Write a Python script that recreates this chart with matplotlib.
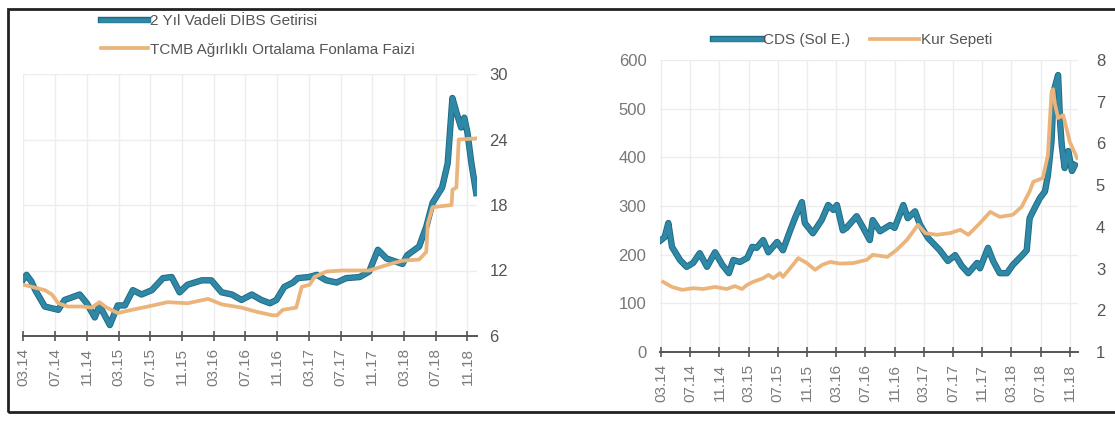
"""Two-panel chart: 2-year bond yield vs TCMB funding rate, CDS vs currency basket."""
import matplotlib
matplotlib.use("Agg")
import matplotlib.pyplot as plt
import matplotlib.patheffects as pe
from matplotlib.patches import Rectangle

TICK_LABELS = ["03.14", "07.14", "11.14", "03.15", "07.15", "11.15", "03.16", "07.16",
               "11.16", "03.17", "07.17", "11.17", "03.18", "07.18", "11.18"]
TICK_POS = [4 * i for i in range(len(TICK_LABELS))]  # months since 03.14

# left panel: months since 03.14 and values (%)
DIBS_M = [0, 0.4, 1, 1.5, 2.7, 4.4, 5.2, 7.1, 8, 9, 9.6, 10.9, 11.9, 12.8, 13.8, 14.9, 16.2,
          17.6, 18.7, 19.7, 20.7, 22.5, 23.7, 25, 26.3, 27.5, 28.8, 30, 31.1, 31.9, 32.9, 34,
          34.6, 36, 37, 38.2, 39.5, 40.7, 42.4, 43.6, 44.7, 45.8, 47, 47.8, 48.4, 49.9, 50.8,
          51.6, 52.8, 53.5, 54.1, 54.6, 55.2, 55.6, 56, 56.5, 57.1]
DIBS = [11.2, 11.6, 11.0, 10.2, 8.7, 8.4, 9.3, 9.8, 9.0, 7.7, 8.8, 7.0, 8.8, 8.8, 10.2, 9.8,
        10.2, 11.3, 11.4, 10.0, 10.7, 11.1, 11.1, 10.0, 9.8, 9.3, 9.8, 9.3, 9.0, 9.3, 10.5,
        10.9, 11.3, 11.4, 11.6, 11.1, 10.9, 11.3, 11.4, 11.9, 13.9, 13.1, 12.8, 12.6, 13.4,
        14.2, 16.0, 18.2, 19.6, 21.8, 27.8, 26.5, 25.1, 26.0, 24.6, 21.8, 19.1]
FAIZ_M = [0, 2.7, 3.6, 4.4, 5.6, 7.4, 8.6, 9.6, 10.5, 11.9, 13.7, 15.7, 18.2, 20.7, 23.3, 25,
          27.5, 29.5, 31.4, 32, 32.7, 34.4, 35.1, 36.1, 36.7, 38.2, 40.2, 43.6, 44.5, 45.8,
          47.8, 49.9, 50.8, 51, 51.6, 54, 54.1, 54.6, 54.9, 57.1]
FAIZ = [10.7, 10.2, 9.8, 9.0, 8.7, 8.7, 8.6, 9.1, 8.6, 8.1, 8.4, 8.7, 9.1, 9.0, 9.4, 8.9, 8.6,
        8.2, 7.9, 7.9, 8.4, 8.6, 10.5, 10.7, 11.4, 11.9, 12.0, 12.0, 12.2, 12.5, 12.9, 13.0,
        13.7, 16.3, 17.8, 18.0, 19.4, 19.6, 24.0, 24.1]

# right panel
CDS_M = [0, 0.5, 1, 1.5, 2.6, 3.5, 4.4, 5.3, 6.3, 7.4, 8.4, 9.3, 9.9, 10.8, 11.8, 12.5, 13.1,
         14, 14.7, 15.9, 16.7, 17.7, 18.4, 19.3, 19.7, 20.8, 22, 22.9, 23.6, 24.1, 24.9, 25.4,
         26.8, 27.7, 28.6, 29, 30, 31.4, 32, 33.2, 33.8, 34.8, 35.5, 36.6, 38.2, 39.3, 40.3,
         41.2, 42.1, 43.3, 43.7, 44.8, 45.5, 46.4, 47.4, 48.2, 49.5, 50.1, 50.5, 51.2, 51.9,
         52.6, 53, 53.5, 53.8, 54.4, 54.7, 54.9, 55.3, 55.8, 56.3, 56.7]
CDS = [230, 236, 265, 216, 189, 175, 183, 203, 175, 205, 179, 162, 189, 185, 193, 216, 214,
       230, 205, 226, 209, 250, 277, 308, 265, 244, 271, 302, 292, 302, 250, 255, 279, 255,
       230, 271, 248, 261, 255, 302, 275, 289, 261, 234, 209, 187, 199, 177, 162, 183, 172,
       214, 187, 162, 162, 179, 199, 209, 275, 296, 316, 330, 363, 433, 536, 569, 466, 425,
       378, 413, 372, 384]
KUR_M = [0.3, 1.5, 2.9, 4.4, 5.8, 7.4, 9, 10.1, 11.1, 11.8, 12.6, 14, 14.7, 15.4, 16.3, 16.7,
         17.7, 18.8, 20, 21.1, 22.1, 23.2, 24.5, 26.3, 28.2, 29, 31, 32.3, 33.7, 34.5, 35.2,
         36.2, 37.8, 39.6, 41, 42.1, 43.7, 45.1, 46.4, 48.2, 49.4, 50.5, 51, 52.3, 53, 53.5,
         53.7, 54, 54.4, 55.1, 56, 57]
KUR = [2.68, 2.56, 2.49, 2.53, 2.51, 2.56, 2.51, 2.58, 2.51, 2.61, 2.68, 2.77, 2.85, 2.77,
       2.89, 2.80, 3.01, 3.25, 3.13, 2.97, 3.09, 3.16, 3.12, 3.13, 3.21, 3.33, 3.28, 3.45,
       3.69, 3.88, 4.05, 3.85, 3.81, 3.85, 3.93, 3.81, 4.09, 4.36, 4.24, 4.29, 4.48, 4.85,
       5.08, 5.17, 5.72, 7.23, 7.30, 6.92, 6.61, 6.68, 6.04, 5.65]

BLUE = "#2E88A6"
BLUE_EDGE = "#1D6A84"
ORANGE = "#EBB47A"
TXT = "#555555"
GRID = "#EDEDED"
W, H = 1115, 421

plt.rcParams["font.family"] = ["Liberation Sans", "DejaVu Sans"]


def style_x(ax, right):
    ax.set_xlim(-0.1, right)
    ax.set_xticks(TICK_POS, TICK_LABELS, rotation=90)
    ax.tick_params(axis="x", direction="inout", length=7, width=1.2, color="#555555",
                   labelcolor="#7a7a7a", labelsize=11, pad=5)
    for s in ("top", "left", "right"):
        ax.spines[s].set_visible(False)
    ax.spines["bottom"].set_color("#555555")
    ax.spines["bottom"].set_linewidth(1.4)
    ax.grid(True, color=GRID, linewidth=1.0)
    ax.set_axisbelow(True)


blue_fx = [pe.Stroke(linewidth=4.6, foreground=BLUE_EDGE), pe.Normal()]

fig = plt.figure(figsize=(W / 100, H / 100), dpi=100)

# left panel
ax1 = fig.add_axes([22.6 / W, 1 - 336 / H, (477 - 22.6) / W, (336 - 74) / H])
l1, = ax1.plot(DIBS_M, DIBS, color=BLUE, lw=3.3, path_effects=blue_fx, zorder=3,
               solid_joinstyle="round")
l2, = ax1.plot(FAIZ_M, FAIZ, color=ORANGE, lw=2.7, zorder=4, solid_joinstyle="round")
ax1.set_ylim(6, 30)
ax1.set_yticks([6, 12, 18, 24, 30])
ax1.yaxis.tick_right()
ax1.tick_params(axis="y", length=0, pad=9, labelsize=12, labelcolor=TXT)
style_x(ax1, 57.2)
fig.legend([l1, l2], ["2 Yıl Vadeli DİBS Getirisi", "TCMB Ağırlıklı Ortalama Fonlama Faizi"],
           loc="upper left", bbox_to_anchor=(101 / W, 1 - 14 / H), frameon=False,
           fontsize=11, handlelength=3.1, handletextpad=0.1, labelspacing=0.95,
           borderpad=0, borderaxespad=0, labelcolor=TXT)

# right panel
ax2 = fig.add_axes([660.3 / W, 1 - 352 / H, (1077.8 - 660.3) / W, (352 - 60) / H])
r1, = ax2.plot(CDS_M, CDS, color=BLUE, lw=3.3, path_effects=blue_fx, zorder=3,
               solid_joinstyle="round")
ax2.set_ylim(0, 600)
ax2.set_yticks(range(0, 601, 100))
ax2.tick_params(axis="y", length=0, pad=10, labelsize=12, labelcolor="#777777")
style_x(ax2, 57.1)
ax3 = ax2.twinx()
r2, = ax3.plot(KUR_M, KUR, color=ORANGE, lw=2.7, solid_joinstyle="round")
ax3.set_ylim(1, 8)
ax3.set_yticks(range(1, 9))
ax3.tick_params(axis="y", length=0, pad=13, labelsize=12, labelcolor=TXT)
for s in ax3.spines.values():
    s.set_visible(False)
fig.legend([r1, r2], ["CDS (Sol E.)", "Kur Sepeti"], loc="upper left", ncol=2,
           bbox_to_anchor=(713 / W, 1 - 33 / H), frameon=False, fontsize=11,
           handlelength=3.2, handletextpad=0.1, columnspacing=1.3, borderpad=0,
           borderaxespad=0, labelcolor=TXT)

# scanned frame around the figure
fig.add_artist(Rectangle((8 / W, 1 - 412 / H), (1125 - 8) / W, (412 - 9) / H,
                         transform=fig.transFigure, fill=False, edgecolor="#222222",
                         linewidth=2.0))

fig.savefig("out.png", dpi=100)
